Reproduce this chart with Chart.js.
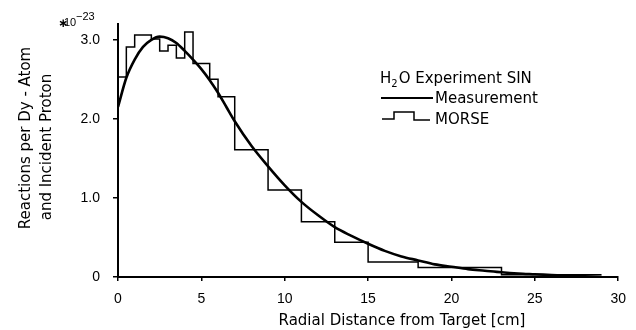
<!DOCTYPE html>
<html>
<head>
<meta charset="utf-8">
<script src="https://cdn.jsdelivr.net/npm/chart.js@4.4.1/dist/chart.umd.min.js"></script>
<style>
  html, body { margin: 0; padding: 0; background: #fff; }
  #wrap { width: 636px; height: 330px; }
</style>
</head>
<body>
<div id="wrap"><canvas id="radialChart" width="636" height="330"></canvas></div>
<script>
// measured curve (units of 1e-23)
var curveX = [0, 0.5, 1, 1.5, 2, 2.5, 3, 3.5, 4, 4.5, 5, 5.5, 6, 6.5, 7, 8, 9, 10, 11, 12, 13, 14, 15, 16, 17, 18, 19, 20, 21, 22, 23, 24, 25, 26, 27, 28, 29];
var curveY = [2.15, 2.52, 2.75, 2.91, 3.0, 3.04, 3.02, 2.96, 2.86, 2.75, 2.63, 2.49, 2.33, 2.15, 1.97, 1.66, 1.40, 1.16, 0.95, 0.78, 0.63, 0.52, 0.42, 0.33, 0.26, 0.21, 0.16, 0.13, 0.10, 0.08, 0.06, 0.045, 0.035, 0.025, 0.015, 0.008, 0.0];

// MORSE histogram: bin edges and bin values
var binEdges = [0, 0.5, 1, 2, 2.5, 3, 3.5, 4, 4.5, 5.5, 6, 7, 9, 11, 13, 15, 18, 23, 29];
var binValues = [2.53, 2.91, 3.06, 3.01, 2.86, 2.93, 2.77, 3.10, 2.70, 2.50, 2.28, 1.61, 1.10, 0.70, 0.44, 0.19, 0.12, 0.03];

var xTicks = [0, 5, 10, 15, 20, 25, 30];
var yTicks = [0, 1, 2, 3];

var histPoints = binValues.map((v, i) => ({x: binEdges[i], y: v}));
histPoints.push({x: binEdges[binEdges.length - 1], y: binValues[binValues.length - 1]});

var textFont = "15px 'DejaVu Sans'";

var annotations = {
    id: "annotations",
    afterDraw(chart) {
        var c = chart.ctx;
        c.save();
        c.fillStyle = "#000";
        c.strokeStyle = "#000";

        // exponent
        c.textBaseline = "alphabetic";
        c.textAlign = "left";
        c.font = "bold 12px 'DejaVu Sans'";
        c.fillText("\u2217", 58, 27);
        c.font = "11px 'Liberation Sans'";
        c.fillText("10", 64, 26);
        c.fillText("\u221223", 76, 20);

        // y title
        c.font = textFont;
        c.textAlign = "center";
        c.textBaseline = "middle";
        c.save();
        c.translate(26, 138);
        c.rotate(-Math.PI / 2);
        c.fillText("Reactions per Dy - Atom", 0, 0);
        c.restore();
        c.save();
        c.translate(47, 147);
        c.rotate(-Math.PI / 2);
        c.fillText("and Incident Proton", 0, 0);
        c.restore();

        // x title
        c.fillText("Radial Distance from Target [cm]", 402, 321);

        // legend
        c.textAlign = "left";
        c.textBaseline = "alphabetic";
        c.fillText("H", 380, 83);
        var w = c.measureText("H").width;
        c.font = "10px 'DejaVu Sans'";
        c.fillText("2", 380 + w, 87);
        var w2 = c.measureText("2").width;
        c.font = textFont;
        c.fillText("O Experiment SIN", 380 + w + w2 + 1, 83);

        c.lineWidth = 2;
        c.beginPath();
        c.moveTo(381, 98);
        c.lineTo(433, 98);
        c.stroke();
        c.fillText("Measurement", 435, 103);

        c.lineWidth = 1.5;
        c.beginPath();
        c.moveTo(382, 119);
        c.lineTo(394, 119);
        c.lineTo(394, 112);
        c.lineTo(414, 112);
        c.lineTo(414, 120);
        c.lineTo(430, 120);
        c.stroke();
        c.fillText("MORSE", 435, 124);
        c.restore();
    }
};

var ctx = document.getElementById("radialChart").getContext("2d");
var radialChart = new Chart(ctx, {
    type: "line",
    data: {
        datasets: [{
            label: "Measurement",
            data: curveX.map((x, i) => ({x: x, y: curveY[i]})),
            borderColor: "#000",
            borderWidth: 2.6,
            pointRadius: 0,
            cubicInterpolationMode: "monotone",
            fill: false
        }, {
            label: "MORSE",
            data: histPoints,
            borderColor: "#000",
            borderWidth: 1.5,
            pointRadius: 0,
            stepped: "before",
            fill: false
        }]
    },
    options: {
        responsive: false,
        animation: false,
        layout: {padding: {top: 24, right: 9, left: 0, bottom: 0}},
        plugins: {legend: {display: false}, tooltip: {enabled: false}},
        scales: {
            x: {
                type: "linear",
                min: 0,
                max: 30,
                afterBuildTicks: s => { s.ticks = xTicks.map(v => ({value: v})); },
                afterFit: s => { s.height = 53; },
                ticks: {color: "#000", font: {family: "'Liberation Sans'", size: 14}, padding: 10, maxRotation: 0},
                grid: {drawOnChartArea: false, tickLength: 4, color: "#000", lineWidth: 1.5},
                border: {color: "#000", width: 2}
            },
            y: {
                min: 0,
                max: 3.2,
                afterBuildTicks: s => { s.ticks = yTicks.map(v => ({value: v})); },
                afterFit: s => { s.width = 118; },
                ticks: {
                    color: "#000",
                    font: {family: "'Liberation Sans'", size: 14},
                    padding: 13,
                    callback: v => v === 0 ? "0" : v.toFixed(1)
                },
                grid: {drawOnChartArea: false, tickLength: 5, color: "#000", lineWidth: 1.5},
                border: {color: "#000", width: 2}
            }
        }
    },
    plugins: [annotations]
});
radialChart.render();
</script>
</body>
</html>
